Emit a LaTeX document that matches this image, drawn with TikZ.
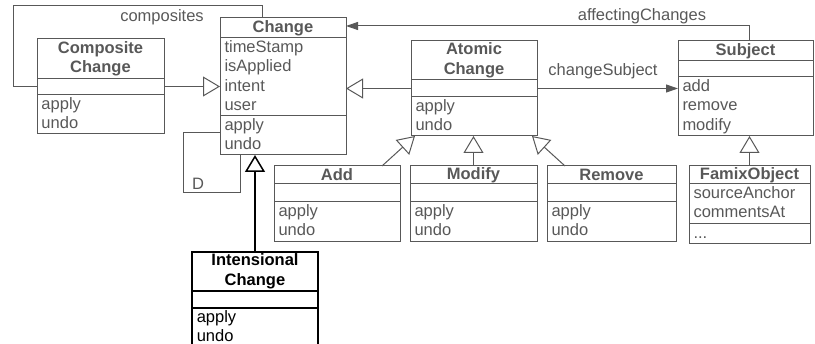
\documentclass[tikz,border=0pt]{standalone}
\usepackage{fontspec}
\setmainfont{Liberation Sans}
\usepackage{tikz}
\usetikzlibrary{arrows.meta,positioning,calc}

\definecolor{umlgray}{RGB}{88,88,88}

\tikzset{
  classbox/.style={draw,rectangle,inner sep=0pt,outer sep=0pt},
  classtitle/.style={align=center,inner sep=0pt,
                     font=\bfseries\fontsize{16.5}{19.5}\selectfont},
  classtext/.style={anchor=north west,align=left,inner xsep=4pt,inner ysep=0pt,
                    font=\fontsize{16.5}{19.5}\selectfont},
  lbl/.style={inner sep=0pt,font=\fontsize{16.5}{19.5}\selectfont},
  inherit/.style={-{Triangle[open,length=17pt,width=20pt]}},
  navig/.style={-{Triangle[length=12pt,width=8pt]}},
}

% #1 name, #2 top left, #3 width, #4/#5/#6 heights, #7 title, #8 attributes, #9 operations
\newcommand{\umlclass}[9]{%
  \node[classbox,minimum width=#3pt,minimum height={#4pt+#5pt+#6pt},
        anchor=north west] (#1) at #2 {};
  \draw ($(#1.north west)+(0,#4)$) -- ++(#3,0);
  \draw ($(#1.north west)+(0,#4+#5)$) -- ++(#3,0);
  \node[classtitle,text width=#3pt] (#1-t) at ($(#1.north)+(0,#4/2)$) {#7};
  \node[classtext] (#1-a) at ($(#1.north west)+(0,#4)$) {\strut#8};
  \node[classtext] (#1-o) at ($(#1.north west)+(0,#4+#5)$) {\strut#9};
}

\begin{document}
\begin{tikzpicture}[x=1pt,y=-1pt,line width=1pt,umlgray]
  \useasboundingbox (0,0) rectangle (815,344);

  % Classes
  \umlclass{cc}{(37,39)}{127}{40}{16}{39}{Composite\\Change}{}{apply\\undo}
  \umlclass{ch}{(220,18)}{126}{20}{78}{39}{Change}{timeStamp\\isApplied\\intent\\user}{apply\\undo}
  \umlclass{ac}{(411,41)}{126}{39}{17}{39}{Atomic\\Change}{}{apply\\undo}
  \umlclass{sb}{(678,41)}{135}{20}{16}{59}{Subject}{}{add\\remove\\modify}
  \umlclass{ad}{(274,166)}{126}{18}{18}{40}{Add}{}{apply\\undo}
  \umlclass{md}{(410,166)}{127}{18}{18}{40}{Modify}{}{apply\\undo}
  \umlclass{rm}{(547,166)}{129}{18}{18}{40}{Remove}{}{apply\\undo}
  \umlclass{fo}{(689,166)}{121}{18}{40}{20}{FamixObject}{sourceAnchor\\commentsAt}{...}
  \begin{scope}[black,line width=1.5pt]
    \umlclass{ic}{(192,252)}{126}{39}{17}{45}{Intensional\\Change}{}{apply\\undo}
  \end{scope}

  % composites
  \coordinate (compcorner) at (13,6);
  \draw (cc.west) -| (compcorner) -| ([xshift=42pt]ch.north west);
  \node[lbl] (complbl) at (162,17) {composites};

  % D loop
  \coordinate (dcorner) at (183,193);
  \draw ([yshift=-46pt]ch.west) -| (dcorner) -| ([xshift=20pt]ch.south west);
  \node[lbl] (dlbl) at (198,184) {D};

  % Associations
  \draw[navig] (ac.east) -- (ac.east -| sb.west);
  \node[lbl] (cslbl) at (603,71) {changeSubject};
  \draw[navig] ([xshift=4pt]sb.north) |- ([yshift=-8pt]ch.north east);
  \node[lbl] (aclbl) at (642,16) {affectingChanges};

  % Inheritance
  \draw[inherit] (cc.east) -- (cc.east -| ch.west);
  \draw[inherit] (ac.west) -- (ac.west -| ch.east);
  \draw[inherit] ([xshift=45pt]ad.north) -- ([xshift=4pt]ac.south west);
  \draw[inherit] (md.north) -- (md.north |- ac.south);
  \draw[inherit] ([xshift=18pt]rm.north west) -- ([xshift=-5pt]ac.south east);
  \draw[inherit] (fo.north) -- (fo.north |- sb.south);
  \draw[inherit,black,line width=1.5pt] (ic.north) -- (ic.north |- ch.south);
\end{tikzpicture}
\end{document}
